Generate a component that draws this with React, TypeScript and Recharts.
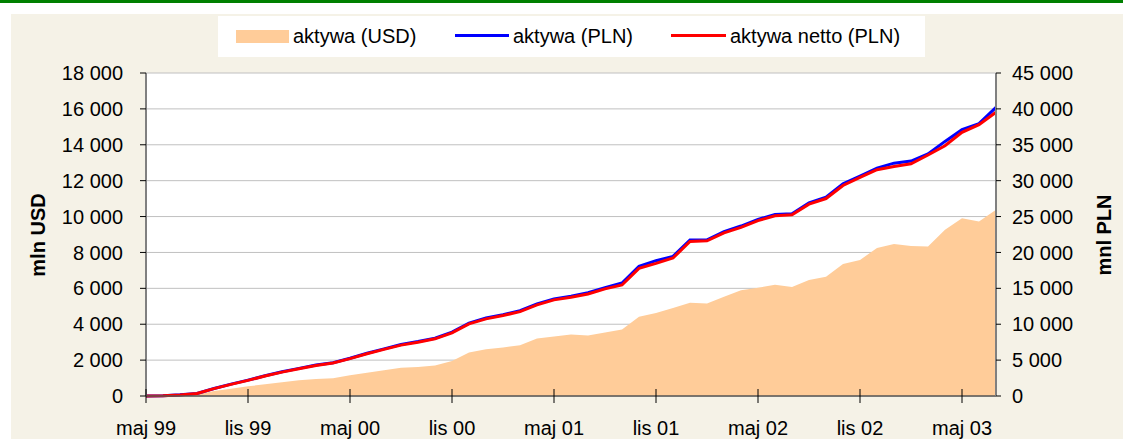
import React from 'react';
import { ComposedChart, Area, Line, XAxis, YAxis, CartesianGrid, Legend } from 'recharts';

const months = [
  'maj 99', 'cze 99', 'lip 99', 'sie 99', 'wrz 99', 'paź 99', 'lis 99', 'gru 99',
  'sty 00', 'lut 00', 'mar 00', 'kwi 00', 'maj 00', 'cze 00', 'lip 00', 'sie 00', 'wrz 00', 'paź 00', 'lis 00', 'gru 00',
  'sty 01', 'lut 01', 'mar 01', 'kwi 01', 'maj 01', 'cze 01', 'lip 01', 'sie 01', 'wrz 01', 'paź 01', 'lis 01', 'gru 01',
  'sty 02', 'lut 02', 'mar 02', 'kwi 02', 'maj 02', 'cze 02', 'lip 02', 'sie 02', 'wrz 02', 'paź 02', 'lis 02', 'gru 02',
  'sty 03', 'lut 03', 'mar 03', 'kwi 03', 'maj 03', 'cze 03', 'lip 03',
];

const aktywaUSD = [
  0, 10, 40, 90, 280, 410, 540, 650, 770, 880, 950, 990,
  1160, 1290, 1440, 1580, 1620, 1700, 1950, 2420, 2600, 2700, 2830, 3200,
  3320, 3425, 3370, 3540, 3705, 4410, 4630, 4910, 5190, 5155, 5525, 5900,
  6035, 6200, 6070, 6460, 6650, 7360, 7580, 8250, 8475, 8360, 8325, 9260,
  9910, 9720, 10375,
];

const aktywaPLN = [
  0, 20, 160, 360, 1050, 1650, 2210, 2820, 3380, 3850, 4310, 4640,
  5260, 5960, 6560, 7170, 7580, 8050, 8890, 10150, 10860, 11320, 11880, 12820,
  13530, 13900, 14380, 15090, 15750, 18060, 18850, 19450, 21720, 21750, 22900, 23680,
  24600, 25300, 25400, 26900, 27700, 29560, 30650, 31740, 32440, 32730, 33720, 35470,
  37100, 37950, 40220,
];

const aktywaNettoPLN = [
  0, 20, 150, 350, 1030, 1620, 2180, 2780, 3330, 3800, 4260, 4590,
  5200, 5890, 6490, 7090, 7500, 7970, 8800, 10050, 10750, 11210, 11760, 12690,
  13390, 13750, 14220, 14920, 15470, 17780, 18470, 19220, 21530, 21630, 22740, 23500,
  24440, 25100, 25240, 26730, 27510, 29330, 30450, 31520, 31980, 32360, 33570, 34870,
  36730, 37800, 39520,
];

const leftTicks = [0, 2000, 4000, 6000, 8000, 10000, 12000, 14000, 16000, 18000];
const rightTicks = [0, 5000, 10000, 15000, 20000, 25000, 30000, 35000, 40000, 45000];

const data = months.map((m, i) => ({
  m,
  usd: aktywaUSD[i],
  pln: aktywaPLN[i],
  netto: aktywaNettoPLN[i],
}));

const FONT = '"Liberation Sans", Arial, sans-serif';
const fmt = (v: number) => String(v).replace(/\B(?=(\d{3})+(?!\d))/g, ' ');

const X_TICK_SIZE = 7;
const X_TICK_MARGIN = 18;

const XTick = (props: any) => {
  const { x, y, payload } = props;
  const axisY = y - X_TICK_SIZE - X_TICK_MARGIN;
  return (
    <g>
      <line x1={x} x2={x} y1={axisY - 7} y2={axisY + 7} stroke="#000" strokeWidth={1} />
      <text x={x} y={y} dy="0.71em" textAnchor="middle" fontFamily={FONT} fontSize={20} fill="#000">
        {payload.value}
      </text>
    </g>
  );
};

const LegendBox = () => (
  <div
    style={{
      position: 'relative',
      width: 707,
      height: 41,
      background: '#FFFFFF',
      fontFamily: FONT,
      fontSize: 20,
      color: '#000',
    }}
  >
    <span style={{ position: 'absolute', left: 18, top: 14, width: 53, height: 13, background: '#FFCC99' }} />
    <span style={{ position: 'absolute', left: 75, top: 0, lineHeight: '40px', whiteSpace: 'nowrap' }}>aktywa (USD)</span>
    <span style={{ position: 'absolute', left: 237, top: 18, width: 54, height: 3, background: '#0000FF' }} />
    <span style={{ position: 'absolute', left: 295, top: 0, lineHeight: '40px', whiteSpace: 'nowrap' }}>aktywa (PLN)</span>
    <span style={{ position: 'absolute', left: 453, top: 18, width: 55, height: 3, background: '#FF0000' }} />
    <span style={{ position: 'absolute', left: 512, top: 0, lineHeight: '40px', whiteSpace: 'nowrap' }}>aktywa netto (PLN)</span>
  </div>
);

const titleStyle = (cx: number, cy: number): React.CSSProperties => ({
  position: 'absolute',
  left: cx - 100,
  top: cy - 12,
  width: 200,
  height: 24,
  lineHeight: '24px',
  textAlign: 'center',
  transform: 'rotate(-90deg)',
  fontFamily: FONT,
  fontWeight: 'bold',
  fontSize: 20,
  color: '#000',
});

export default function App() {
  return (
    <div style={{ position: 'absolute', left: 0, top: 0, width: 1123, height: 439, background: '#FFFFFF', overflow: 'hidden' }}>
      <div style={{ position: 'absolute', left: 0, top: 0, width: 1123, height: 3, background: '#008000' }} />
      <div style={{ position: 'absolute', left: 11, top: 14, right: 0, bottom: 0, background: '#F5F2E7' }} />
      <div style={titleStyle(37.5, 235)}>mln USD</div>
      <div style={titleStyle(1104, 235)}>mnl PLN</div>
      <div style={{ position: 'absolute', left: 0, top: 0 }}>
        <ComposedChart width={1123} height={439} data={data} margin={{ top: 73, right: 0, bottom: 0, left: 0 }}>
          <CartesianGrid yAxisId="left" vertical={false} stroke="#C0C0C0" fill="#FFFFFF" fillOpacity={1} />
          <XAxis
            dataKey="m"
            scale="point"
            padding={{ left: 0, right: 0 }}
            interval={5}
            height={43}
            tickSize={X_TICK_SIZE}
            tickMargin={X_TICK_MARGIN}
            tickLine={false}
            axisLine={{ stroke: '#555555', strokeWidth: 1.5 }}
            tick={<XTick />}
          />
          <YAxis
            yAxisId="left"
            orientation="left"
            width={146}
            domain={[0, 18000]}
            ticks={leftTicks}
            tickFormatter={fmt}
            interval={0}
            tickSize={6}
            tickMargin={17}
            axisLine={{ stroke: '#808080', strokeWidth: 2 }}
            tickLine={{ stroke: '#000' }}
            tick={{ fontFamily: FONT, fontSize: 20, fill: '#000' }}
          />
          <YAxis
            yAxisId="right"
            orientation="right"
            width={127}
            domain={[0, 45000]}
            ticks={rightTicks}
            tickFormatter={fmt}
            interval={0}
            tickSize={5}
            tickMargin={11}
            axisLine={{ stroke: '#808080', strokeWidth: 2 }}
            tickLine={{ stroke: '#000' }}
            tick={{ fontFamily: FONT, fontSize: 20, fill: '#000', textAnchor: 'start' }}
          />
          <Legend
            layout="vertical"
            align="center"
            verticalAlign="middle"
            content={<LegendBox />}
            wrapperStyle={{ position: 'absolute', left: 218, top: 16, width: 707, height: 41 }}
          />
          <Area
            yAxisId="left"
            type="linear"
            dataKey="usd"
            name="aktywa (USD)"
            fill="#FFCC99"
            fillOpacity={1}
            stroke="none"
            isAnimationActive={false}
          />
          <Line
            yAxisId="right"
            type="linear"
            dataKey="pln"
            name="aktywa (PLN)"
            stroke="#0000FF"
            strokeWidth={3}
            dot={false}
            isAnimationActive={false}
          />
          <Line
            yAxisId="right"
            type="linear"
            dataKey="netto"
            name="aktywa netto (PLN)"
            stroke="#FF0000"
            strokeWidth={3}
            dot={false}
            isAnimationActive={false}
          />
        </ComposedChart>
      </div>
    </div>
  );
}
